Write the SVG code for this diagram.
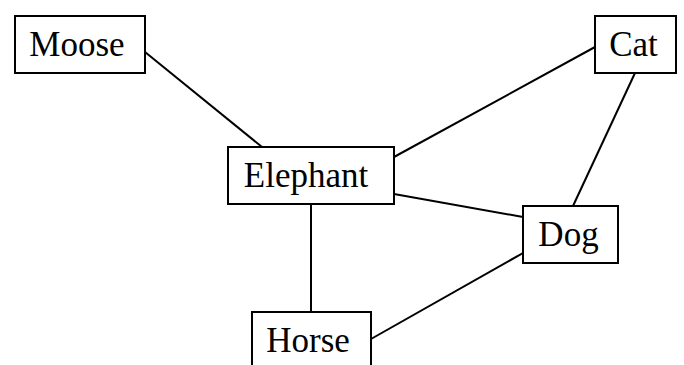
<svg xmlns="http://www.w3.org/2000/svg" width="684" height="365" viewBox="0 0 684 365">
<style>
.box{fill:#fff;stroke:#000;stroke-width:2}
.lbl{font-family:"Liberation Serif","Times New Roman",serif;font-size:35px;text-anchor:middle;fill:#000}
.edge{stroke:#000;stroke-width:2;fill:none}
</style>
<rect width="684" height="365" fill="#fff"/>
<g id="connectors">
<line class="edge" x1="145" y1="52" x2="262" y2="147"/>
<line class="edge" x1="595" y1="47" x2="394" y2="157"/>
<line class="edge" x1="394" y1="194" x2="523" y2="217"/>
<line class="edge" x1="635" y1="73" x2="573" y2="206"/>
<line class="edge" x1="311" y1="204" x2="311" y2="312"/>
<line class="edge" x1="523" y1="253" x2="371" y2="339"/>
</g>
<g id="moose"><rect class="box" x="15" y="16" width="130" height="57"/><text class="lbl" x="77" y="56">Moose</text></g>
<g id="cat"><rect class="box" x="595" y="16" width="81" height="57"/><text class="lbl" x="633.5" y="56">Cat</text></g>
<g id="elephant"><rect class="box" x="228" y="147" width="166" height="57"/><text class="lbl" x="306" y="187">Elephant</text></g>
<g id="dog"><rect class="box" x="523" y="206" width="95" height="57"/><text class="lbl" x="568.5" y="246">Dog</text></g>
<g id="horse"><rect class="box" x="252" y="312" width="119" height="57"/><text class="lbl" x="308" y="352">Horse</text></g>
</svg>
